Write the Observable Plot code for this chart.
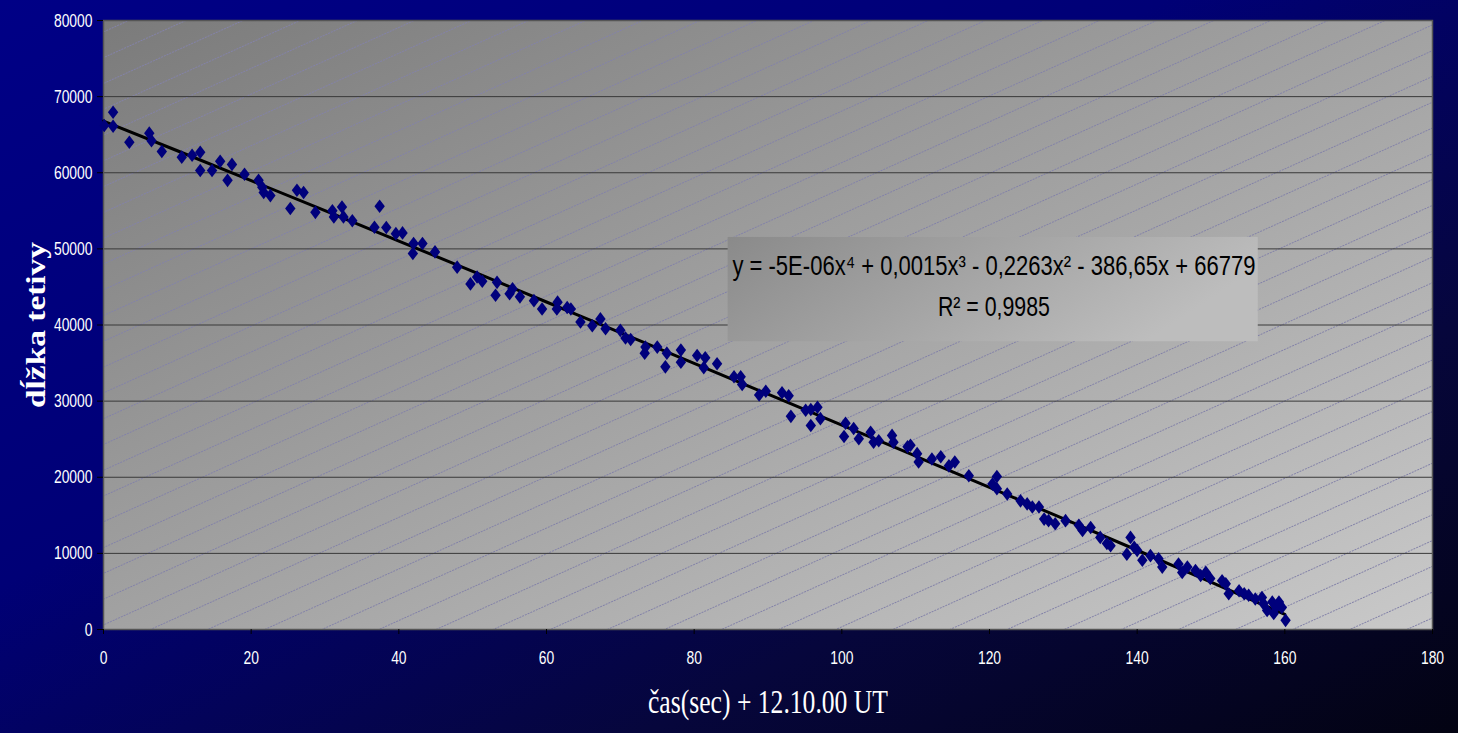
<!DOCTYPE html>
<html><head><meta charset="utf-8">
<script src="https://cdn.jsdelivr.net/npm/d3@7"></script>
<script src="https://cdn.jsdelivr.net/npm/@observablehq/plot@0.6"></script>
<style>
html,body{margin:0;padding:0;background:#000050;}
#chart{width:1458px;height:733px;}
</style></head><body>
<svg width="0" height="0" style="position:absolute">
<defs>
<linearGradient id="plotGrad" x1="0" y1="0" x2="1" y2="1">
<stop offset="0" stop-color="#7b7b7b"/><stop offset="1" stop-color="#c9c9c9"/>
</linearGradient>
<linearGradient id="boxGrad" x1="0" y1="0" x2="1" y2="0.3">
<stop offset="0" stop-color="#8a8a8a"/><stop offset="1" stop-color="#bdbdbd"/>
</linearGradient>
<pattern id="hatch" patternUnits="userSpaceOnUse" width="60" height="23.5" patternTransform="rotate(-24.3)">
<line x1="0" y1="0.5" x2="60" y2="0.5" stroke="#8382a8" stroke-width="1" stroke-dasharray="2 1"/>
</pattern>
</defs></svg>
<div id="chart"></div>
<script>
// measured points: time (s) and chord length
const timeSec = [0.1,1.3,1.3,3.5,6.2,6.5,7.9,10.6,12.0,13.1,13.1,14.7,15.8,17.4,16.8,19.1,21.0,21.5,21.7,22.6,
  25.3,26.2,27.1,28.7,31.0,31.2,32.3,32.5,33.7,36.7,37.4,38.3,39.6,40.5,42.0,41.9,43.2,44.9,47.9,49.7,
  50.6,51.3,53.3,53.1,55.0,55.4,56.4,58.3,59.4,61.5,61.4,62.8,63.3,64.6,66.2,67.3,68.0,70.0,70.7,71.4,
  73.4,73.3,75.0,76.1,76.3,78.2,78.2,80.4,81.5,81.3,83.1,85.4,86.3,86.5,88.8,89.7,91.9,92.8,93.1,95.1,
  95.8,96.7,95.8,97.1,100.3,100.5,101.6,102.3,103.9,104.3,105.0,106.8,107.0,108.9,109.3,110.2,110.4,112.2,113.4,114.5,
  115.3,117.2,120.4,121.0,121.0,122.4,124.2,125.1,125.8,126.7,127.4,128.0,128.9,130.3,132.1,132.6,133.7,135.0,135.9,136.4,
  139.1,139.6,138.6,140.0,140.7,141.8,142.9,143.4,145.6,146.1,146.8,147.9,148.6,149.3,149.9,151.5,152.0,152.4,153.8,154.5,
  155.1,156.0,156.9,157.1,157.6,158.3,158.8,159.2,159.6,160.1,158.5];
const chordLen = [66200,67950,66100,64000,65200,64200,62800,62050,62300,62700,60300,60300,61500,61100,59000,59800,59000,58100,57400,57000,
  55300,57700,57400,54800,55000,54200,55500,54200,53700,52850,55600,52800,52000,52100,50700,49400,50700,49600,47600,45400,
  46300,45750,45600,43900,44100,44750,43700,43200,42100,43000,42100,42300,42100,40400,39900,40800,39500,39300,38300,38100,
  37100,36300,37100,34500,36300,36700,35100,36000,35700,34400,34900,33200,33200,32200,30800,31300,31100,30700,28000,28800,
  28900,29200,26800,27700,25350,27100,26400,25050,25900,24600,24800,25500,24600,24000,24200,23100,22000,22400,22700,21500,
  22000,20200,19100,20100,18500,17800,16900,16500,16100,16100,14500,14300,13900,14300,13700,13000,13400,12100,11300,11000,
  12100,10800,9900,10400,9100,9700,9300,8200,8600,7500,8200,7750,7100,7500,6700,6400,6000,4700,5100,4700,
  4500,4000,4200,3400,2500,3600,2900,3600,2900,1200,2100];
// trend line
const trendX = [0,10,20,30,40,50,60,70,80,90,100,110,120,130,140,150,160];
const trendY = [66780,62890,58970,55010,51030,47040,43020,39000,34960,30910,26850,22770,18680,14560,10410,6220,1990];
// tick values
const xTicks = [0,20,40,60,80,100,120,140,160,180];
const yTicks = [0,10000,20000,30000,40000,50000,60000,70000,80000];
// texts
const xTitle = "čas(sec) + 12.10.00 UT";
const yTitle = "dĺžka tetivy";
const eqText = "y = -5E-06x⁴ + 0,0015x³ - 0,2263x² - 386,65x + 66779";
const r2Text = "R² = 0,9985";

const points = timeSec.map((t, i) => ({t, v: chordLen[i]}));
const trend = trendX.map((t, i) => ({t, v: trendY[i]}));

const diamond = {
  draw(ctx) {
    const w = 5.2, h = 6.8;
    ctx.moveTo(0, -h); ctx.lineTo(w, 0); ctx.lineTo(0, h); ctx.lineTo(-w, 0); ctx.closePath();
  }
};
const sans = "'Liberation Sans', Arial, sans-serif";
const serif = "'Liberation Serif', 'Times New Roman', serif";

const chart = Plot.plot({
  width: 1458, height: 733,
  marginTop: 20, marginRight: 26, marginBottom: 104, marginLeft: 103,
  style: {
    background: "linear-gradient(to bottom right, #000086 0%, #000076 40%, #06063c 72%, #030312 100%)",
    color: "white", fontFamily: sans, overflow: "visible"
  },
  x: {domain: [0, 180], ticks: xTicks},
  y: {domain: [0, 80000], ticks: yTicks},
  marks: [
    Plot.frame({fill: "url(#plotGrad)", stroke: null}),
    Plot.frame({fill: "url(#hatch)", stroke: null}),
    Plot.gridY(yTicks, {stroke: "#383838", strokeOpacity: 1, strokeWidth: 1}),
    Plot.frame({stroke: "#555", strokeWidth: 1.5}),
    Plot.rect([{}], {x1: 84.6, x2: 156.4, y1: 37800, y2: 51500, fill: "url(#boxGrad)"}),
    Plot.text([eqText], {x: 120.6, y: 47800, text: d => d, fontSize: 28, fill: "black", fontFamily: sans}),
    Plot.text([r2Text], {x: 120.6, y: 42300, text: d => d, fontSize: 28, fill: "black", fontFamily: sans}),
    Plot.line(trend, {x: "t", y: "v", stroke: "black", strokeWidth: 3, curve: "natural"}),
    Plot.dot(points, {x: "t", y: "v", symbol: diamond, fill: "#00007c", stroke: null, r: 5}),
    Plot.axisX(xTicks, {tickSize: 5, tickPadding: 16, fontSize: 19, stroke: "black", fill: "white", label: null, tickFormat: d => String(d)}),
    Plot.axisY(yTicks, {tickSize: 6, tickPadding: 5, fontSize: 19, stroke: "black", fill: "white", label: null, tickFormat: d => String(d)}),
    Plot.text([xTitle], {frameAnchor: "bottom", dy: 83, text: d => d, fontFamily: serif, fontSize: 33, fill: "white"}),
    Plot.text([yTitle], {frameAnchor: "left", textAnchor: "middle", dx: -67, rotate: -90, text: d => d, fontFamily: serif, fontWeight: "bold", fontSize: 28, fill: "white"})
  ]
});
document.getElementById("chart").append(chart);

const fixedLen = new Map([[xTitle, 240], [yTitle, 166], [eqText, 523], [r2Text, 112]]);
d3.select(chart).selectAll("text").each(function () {
  const t = this.textContent;
  const L = fixedLen.has(t) ? fixedLen.get(t) : this.getComputedTextLength() * 0.73;
  this.setAttribute("textLength", L);
  this.setAttribute("lengthAdjust", "spacingAndGlyphs");
});
</script>
</body></html>
